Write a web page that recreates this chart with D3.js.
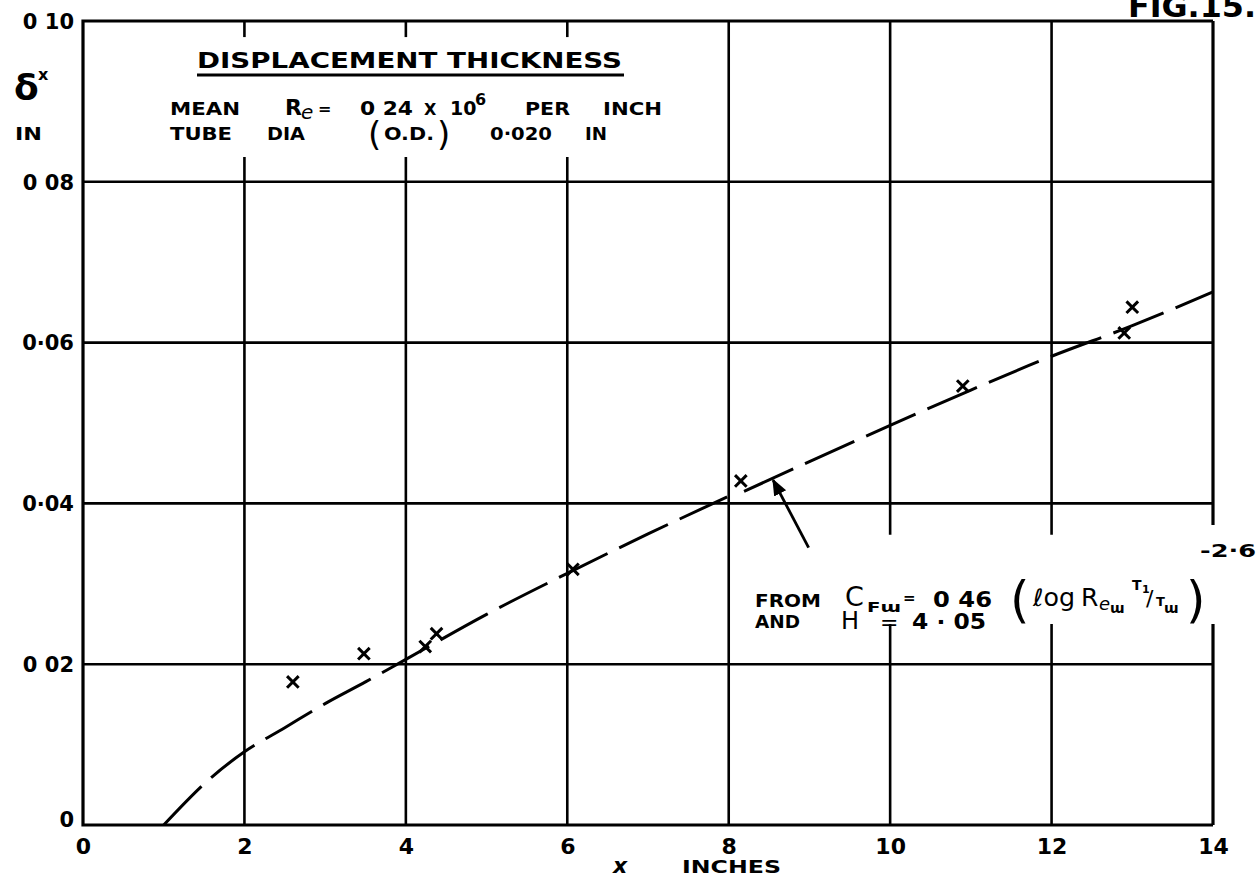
<!DOCTYPE html>
<html>
<head>
<meta charset="utf-8">
<script src="https://cdn.jsdelivr.net/npm/d3@7"></script>
<style>
  body { margin: 0; background: #fff; }
  svg { display: block; }
  text { font-family: "DejaVu Sans", sans-serif; font-weight: bold; fill: #000; }
</style>
</head>
<body>
<div id="chart"></div>
<script>
// tick values and labels as lettered on the sheet
var xTicks = [0, 2, 4, 6, 8, 10, 12, 14];
var xTickLabels = ["0", "2", "4", "6", "8", "10", "12", "14"];
var yTicks = [0, 0.02, 0.04, 0.06, 0.08, 0.10];
var yTickLabels = ["0", "0 02", "0·04", "0·06", "0 08", "0 10"];

// measured points (crosses)
var pointX = [2.6, 3.48, 4.24, 4.38, 6.07, 8.15, 10.9, 12.9, 13.0];
var pointY = [0.0178, 0.0213, 0.0222, 0.0238, 0.0318, 0.0428, 0.0546, 0.0612, 0.0644];

// calculated curve, drawn in two pieces
var fitX1 = [1.0, 1.6, 2.0, 2.5, 3.0, 3.5, 4.0, 5.0, 6.0, 7.0, 7.98];
var fitY1 = [0, 0.006, 0.0091, 0.0121, 0.0151, 0.0178, 0.0206, 0.0262, 0.0313, 0.0362, 0.0408];
var fitX2 = [8.19, 9, 10, 11, 12, 13, 14];
var fitY2 = [0.0415, 0.0452, 0.0497, 0.0541, 0.0583, 0.0621, 0.0663];

// leader arrow to the curve
var arrowFrom = [8.99, 0.0345];
var arrowTo = [8.55, 0.0429];

var w = 1257, h = 894;

var svg = d3.select("#chart")
  .append("svg")
  .attr("width", w)
  .attr("height", h);

var x = d3.scaleLinear().domain([0, 14]).range([83, 1213]);
var y = d3.scaleLinear().domain([0, 0.10]).range([825, 21]);

// gaps in the vertical lines where lettering sits (data units)
var vGaps = {
  2: [0.0831, 0.098], 4: [0.0831, 0.098], 6: [0.0831, 0.098],
  10: [0.025, 0.0361], 12: [0.025, 0.0361], 14: [0.025, 0.0373]
};

var grid = svg.append("g")
  .attr("stroke", "#000")
  .attr("stroke-width", 2.6)
  .attr("fill", "none");

// horizontal grid lines
grid.selectAll("line.h")
  .data(yTicks.filter(function(d) { return d > 0 && d < 0.1; }))
  .enter()
  .append("line")
  .attr("x1", x(0)).attr("x2", x(14))
  .attr("y1", function(d) { return y(d); })
  .attr("y2", function(d) { return y(d); });

// vertical grid lines (and right border), broken around text
var vSegs = [];
xTicks.filter(function(d) { return d > 0; }).forEach(function(t) {
  var g = vGaps[t];
  if (g) {
    vSegs.push({ x: t, y0: 0, y1: g[0] });
    vSegs.push({ x: t, y0: g[1], y1: 0.10 });
  } else {
    vSegs.push({ x: t, y0: 0, y1: 0.10 });
  }
});
grid.selectAll("line.v")
  .data(vSegs)
  .enter()
  .append("line")
  .attr("x1", function(d) { return x(d.x); })
  .attr("x2", function(d) { return x(d.x); })
  .attr("y1", function(d) { return y(d.y0); })
  .attr("y2", function(d) { return y(d.y1); })
  .attr("stroke-width", function(d) { return d.x === 14 ? 3.2 : 2.6; });

// left, bottom and top borders
svg.append("path")
  .attr("d", "M" + x(14) + "," + y(0.10) + "H" + x(0) + "V" + y(0) + "H" + x(14))
  .attr("stroke", "#000")
  .attr("stroke-width", 3.2)
  .attr("fill", "none");

// axes (labels only)
var xAxis = svg.append("g")
  .attr("transform", "translate(0," + y(0) + ")")
  .call(d3.axisBottom(x).tickValues(xTicks)
    .tickFormat(function(d, i) { return xTickLabels[i]; })
    .tickSize(0).tickPadding(13));
xAxis.select(".domain").remove();
xAxis.selectAll("text")
  .attr("font-family", null)
  .style("font-size", "22px");

var yAxis = svg.append("g")
  .attr("transform", "translate(" + x(0) + ",0)")
  .call(d3.axisLeft(y).tickValues(yTicks)
    .tickFormat(function(d, i) { return yTickLabels[i]; })
    .tickSize(0).tickPadding(9));
yAxis.select(".domain").remove();
yAxis.selectAll("text")
  .attr("font-family", null)
  .style("font-size", "21px")
  .attr("dy", function(d) { return d === 0 ? "0.05em" : "0.35em"; });

// curve
var line = d3.line()
  .x(function(d) { return x(d[0]); })
  .y(function(d) { return y(d[1]); })
  .curve(d3.curveMonotoneX);

[[fitX1, fitY1], [fitX2, fitY2]].forEach(function(s) {
  svg.append("path")
    .datum(d3.zip(s[0], s[1]))
    .attr("d", line)
    .attr("fill", "none")
    .attr("stroke", "#000")
    .attr("stroke-width", 3)
    .attr("stroke-dasharray", "54,13");
});

// crosses
svg.selectAll("path.pt")
  .data(d3.zip(pointX, pointY))
  .enter()
  .append("path")
  .attr("d", d3.symbol(d3.symbolTimes, 90))
  .attr("transform", function(d) { return "translate(" + x(d[0]) + "," + y(d[1]) + ")"; })
  .attr("fill", "none")
  .attr("stroke", "#000")
  .attr("stroke-width", 3);

// arrow
svg.append("defs").append("marker")
  .attr("id", "head")
  .attr("viewBox", "0 0 10 10")
  .attr("refX", 9).attr("refY", 5)
  .attr("markerWidth", 6).attr("markerHeight", 6)
  .attr("markerUnits", "strokeWidth")
  .attr("orient", "auto")
  .append("path")
  .attr("d", "M0,1 L10,5 L0,9 Z")
  .attr("fill", "#000");

svg.append("line")
  .attr("x1", x(arrowFrom[0])).attr("y1", y(arrowFrom[1]))
  .attr("x2", x(arrowTo[0])).attr("y2", y(arrowTo[1]))
  .attr("stroke", "#000")
  .attr("stroke-width", 2.8)
  .attr("marker-end", "url(#head)");

// lettering helper
function label(txt, px, py, size, opts) {
  opts = opts || {};
  var t = svg.append("text")
    .attr("x", px).attr("y", py)
    .style("font-size", size + "px")
    .text(txt);
  if (opts.len) t.attr("textLength", opts.len).attr("lengthAdjust", "spacingAndGlyphs");
  if (opts.italic) t.style("font-style", "italic");
  if (opts.normal) t.style("font-weight", "normal");
  return t;
}

// figure number, cut at top of sheet
label("FIG.15.", 1128, 17, 30, { len: 128 });

// y axis title
label("δ", 14, 100, 36);
label("x", 38, 80, 16);
label("IN", 15, 140, 17, { len: 27 });

// title block
label("DISPLACEMENT  THICKNESS", 197, 68, 21, { len: 425 });
svg.append("line")
  .attr("x1", 197).attr("x2", 624)
  .attr("y1", 75).attr("y2", 75)
  .attr("stroke", "#000").attr("stroke-width", 3);

label("MEAN", 170, 115, 18, { len: 70 });
label("R", 285, 115, 22);
label("e", 301, 119, 20, { italic: true, normal: true });
label("=", 318, 114, 16);
label("0 24", 360, 115, 19, { len: 53 });
label("X", 424, 115, 16);
label("10", 450, 115, 19);
label("6", 475, 105, 16);
label("PER", 525, 115, 18, { len: 45 });
label("INCH", 603, 115, 18, { len: 59 });

label("TUBE", 170, 140, 18, { len: 62 });
label("DIA", 267, 140, 18, { len: 38 });
label("(", 368, 146, 34, { normal: true });
label("O.D.", 384, 140, 17, { len: 50 });
label(")", 437, 146, 34, { normal: true });
label("0·020", 490, 140, 18, { len: 62 });
label("IN", 585, 140, 18, { len: 22 });

// formula annotation
label("FROM", 755, 607, 18, { len: 66 });
label("C", 845, 606, 27, { normal: true });
label("Fɯ", 867, 612, 14, { len: 34 });
label("=", 903, 603, 15);
label("0 46", 933, 607, 22, { len: 59 });
label("(", 1010, 617, 50, { normal: true });
label("ℓog", 1033, 606, 24, { normal: true, len: 42 });
label("R", 1081, 606, 25, { normal: true });
label("e", 1099, 610, 18, { italic: true, normal: true });
label("ɯ", 1110, 613, 14);
label("T", 1132, 590, 14);
label("1", 1142, 593, 11);
label("/", 1146, 606, 22, { normal: true });
label("T", 1156, 606, 13);
label("ɯ", 1164, 613, 14);
label(")", 1186, 617, 50, { normal: true });
label("-2·6", 1200, 557, 18, { len: 56 });

label("AND", 755, 628, 18, { len: 45 });
label("H", 841, 629, 24, { normal: true });
label("=", 880, 630, 22, { normal: true });
label("4 · 05", 912, 629, 22, { len: 74 });

// x axis title
label("x", 613, 873, 22, { italic: true });
label("INCHES", 682, 873, 18, { len: 99 });
</script>
</body>
</html>
